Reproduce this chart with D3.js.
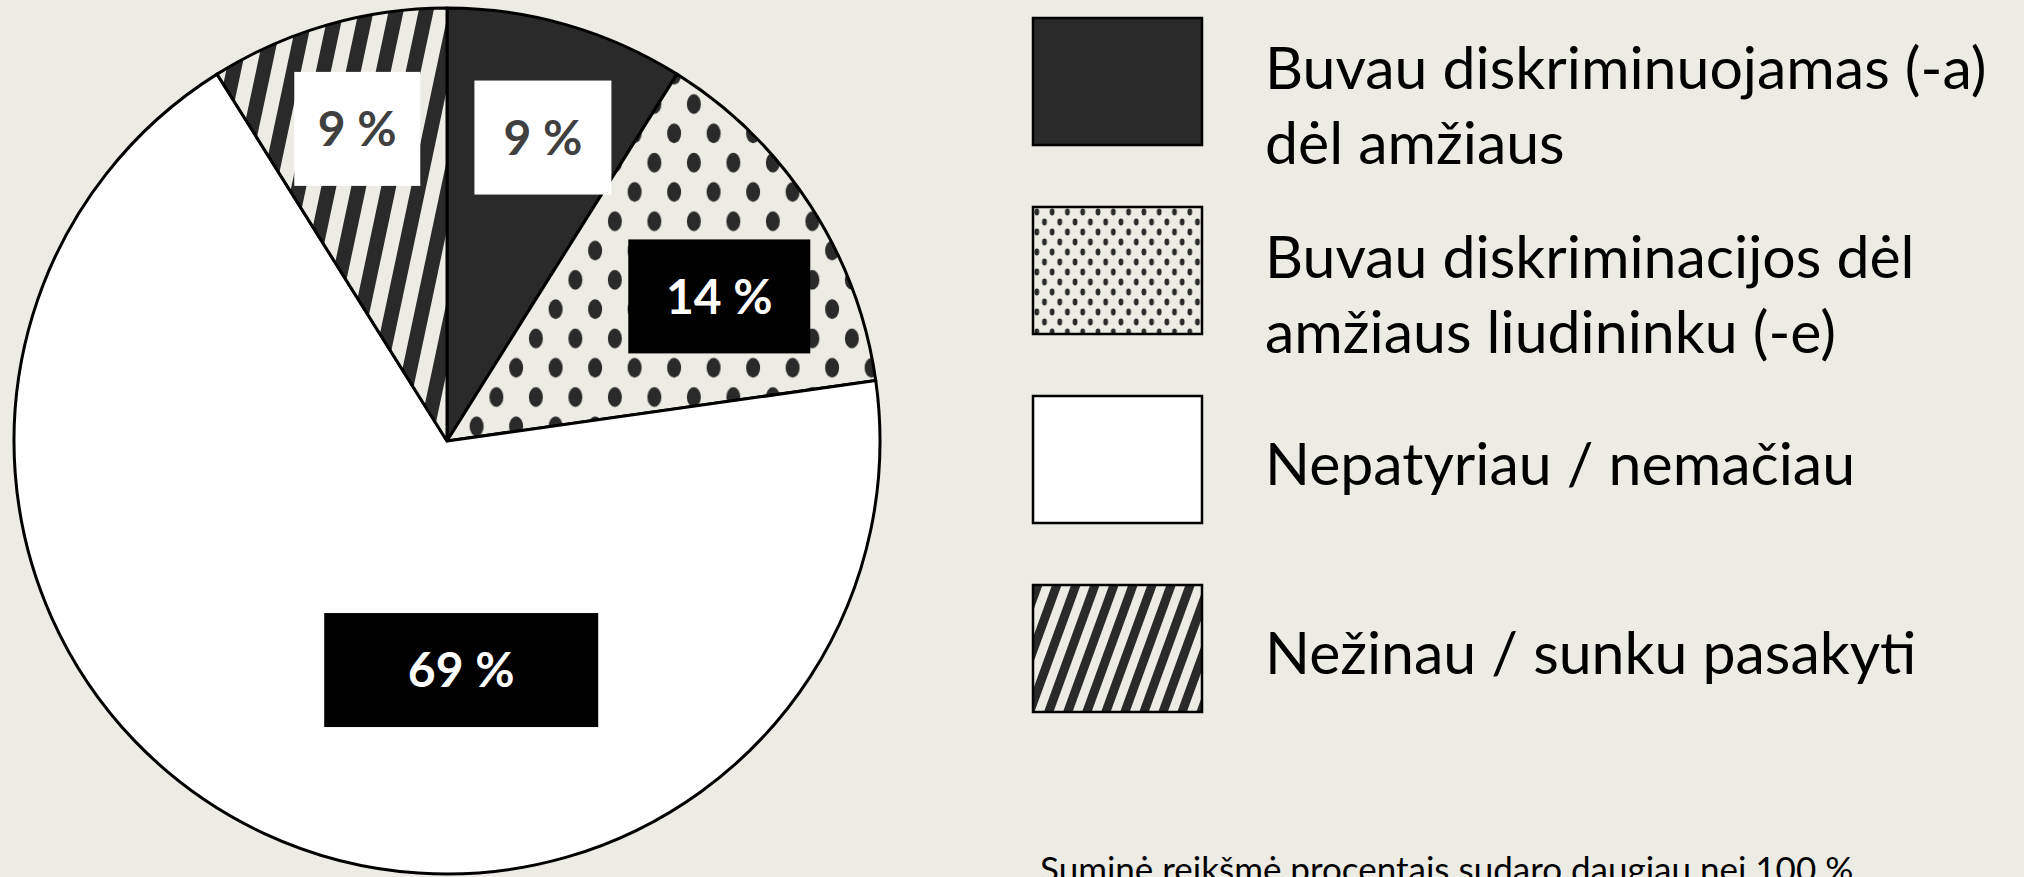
<!DOCTYPE html>
<html>
<head>
<meta charset="utf-8">
<script src="https://cdn.jsdelivr.net/npm/d3@7"></script>
<style>
  html, body { margin: 0; padding: 0; background: #ecebe4; overflow: hidden; }
  svg { display: block; }
</style>
</head>
<body>
<svg id="chart" width="2024" height="877"></svg>
<script>
// data
const categories = [
  "Buvau diskriminuojamas (-a)\ndėl amžiaus",
  "Buvau diskriminacijos dėl\namžiaus liudininku (-e)",
  "Nepatyriau / nemačiau",
  "Nežinau / sunku pasakyti"
];
const values = [9, 14, 69, 9];
const footnote = "Suminė reikšmė procentais sudaro daugiau nei 100 %";

// looks
const fills = ["#2a2a2a", "url(#dotsBig)", "#ffffff", "url(#stripesBig)"];
const legendFills = ["#2a2a2a", "url(#dotsSmall)", "#ffffff", "url(#stripesSmall)"];
const labelBoxFill = ["#ffffff", "#000000", "#000000", "#ffffff"];
const labelTextFill = ["#404040", "#ffffff", "#ffffff", "#404040"];
// label placement: radius fraction, angle nudge (deg), box width
const labelRadius = [0.735, 0.712, 0.53, 0.75];
const labelNudge = [1.5, 5, -28.5, 0];
const labelBoxW = [137, 182, 274, 126];

const W = 2024, H = 877;
const cx = 447, cy = 441, r = 433;
const font = "Lato, 'Open Sans', sans-serif";

const svg = d3.select("#chart");
const defs = svg.append("defs");

// dot patterns (staggered rows)
function dots(id, w, h, rx, ry) {
  const p = defs.append("pattern").attr("id", id)
    .attr("patternUnits", "userSpaceOnUse")
    .attr("width", w).attr("height", h);
  p.append("rect").attr("width", w).attr("height", h).attr("fill", "#ecebe4");
  [[w / 4, h / 4], [w * 3 / 4, h * 3 / 4]].forEach(c => {
    p.append("ellipse").attr("cx", c[0]).attr("cy", c[1])
      .attr("rx", rx).attr("ry", ry).attr("fill", "#2a2a2a");
  });
}
dots("dotsBig", 39.5, 58.6, 7, 10);
dots("dotsSmall", 15.3, 20, 2.4, 3.4);

// stripe patterns
function stripes(id, period, angle) {
  const p = defs.append("pattern").attr("id", id)
    .attr("patternUnits", "userSpaceOnUse")
    .attr("width", period).attr("height", 10)
    .attr("patternTransform", `rotate(${angle})`);
  p.append("rect").attr("width", period).attr("height", 10).attr("fill", "#ecebe4");
  p.append("rect").attr("width", period / 2).attr("height", 10).attr("fill", "#2a2a2a");
}
stripes("stripesBig", 29.3, 12);
stripes("stripesSmall", 17.9, 20);

// pie
const pie = d3.pie().sort(null).value(d => d);
const arcs = pie(values);
const arc = d3.arc().innerRadius(0).outerRadius(r);

const g = svg.append("g").attr("transform", `translate(${cx},${cy})`);
g.selectAll("path.slice")
  .data(arcs)
  .join("path")
  .attr("class", "slice")
  .attr("d", arc)
  .attr("fill", (d, i) => fills[i])
  .attr("stroke", "#000")
  .attr("stroke-width", 3)
  .attr("stroke-linejoin", "round");

// data labels
const lab = g.selectAll("g.label")
  .data(arcs)
  .join("g")
  .attr("class", "label")
  .attr("transform", (d, i) => {
    const a = (d.startAngle + d.endAngle) / 2 + labelNudge[i] * Math.PI / 180;
    const rr = r * labelRadius[i];
    return `translate(${Math.sin(a) * rr},${-Math.cos(a) * rr})`;
  });
lab.append("rect")
  .attr("x", (d, i) => -labelBoxW[i] / 2)
  .attr("y", -57)
  .attr("width", (d, i) => labelBoxW[i])
  .attr("height", 114)
  .attr("fill", (d, i) => labelBoxFill[i]);
lab.append("text")
  .attr("text-anchor", "middle")
  .attr("dy", "0.36em")
  .attr("font-family", font)
  .attr("font-weight", "bold")
  .attr("font-size", 48)
  .attr("fill", (d, i) => labelTextFill[i])
  .text(d => d.data + " %");

// legend
const legend = svg.append("g").attr("transform", "translate(1033,18)");
const item = legend.selectAll("g.item")
  .data(categories)
  .join("g")
  .attr("class", "item")
  .attr("transform", (d, i) => `translate(0,${i * 189})`);
item.append("rect")
  .attr("width", 169).attr("height", 127)
  .attr("fill", (d, i) => legendFills[i])
  .attr("stroke", "#000")
  .attr("stroke-width", 2.5);
item.each(function(d) {
  const lines = d.split("\n");
  const t = d3.select(this).append("text")
    .attr("font-family", font)
    .attr("font-size", 59)
    .attr("fill", "#000");
  const y0 = lines.length > 1 ? 71 : 89;
  lines.forEach((ln, j) => {
    t.append("tspan").attr("x", 232).attr("y", y0 + j * 75).text(ln);
  });
});

// footnote (cut by the bottom edge, as in the original slide)
svg.append("text")
  .attr("x", 1040).attr("y", 882)
  .attr("font-family", font)
  .attr("font-size", 35)
  .attr("fill", "#000")
  .text(footnote);
</script>
</body>
</html>
